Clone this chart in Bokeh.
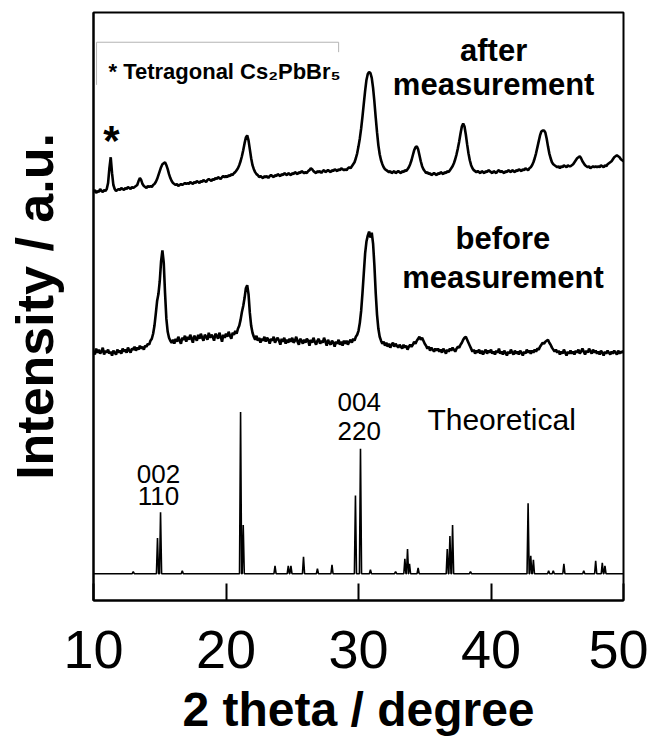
import numpy as np
from bokeh.plotting import figure
from bokeh.models import Range1d, FixedTicker, Label
from bokeh.embed import file_html
from bokeh.resources import INLINE

# ---------------- data (2theta in degrees, intensity in a.u. with vertical offsets) ----------------
two_theta = np.round(np.arange(100, 501) / 10.0, 1)  # 10.0 ... 50.0, 0.1 deg steps

after_meas = [
    412, 414, 411, 413, 412, 415, 413, 412, 414, 413,
    415, 421, 436, 447, 431, 419, 415, 413, 414, 415,
    414, 416, 415, 414, 416, 415, 417, 416, 415, 417,
    416, 417, 418, 419, 423, 426, 424, 420, 418, 417,
    416, 418, 417, 418, 417, 419, 420, 422, 425, 429,
    433, 437, 440, 441, 442, 439, 435, 430, 426, 423,
    421, 420, 419, 420, 418, 419, 420, 419, 420, 421,
    420, 421, 420, 422, 421, 420, 422, 421, 423, 422,
    421, 423, 422, 424, 423, 422, 424, 425, 424, 423,
    425, 424, 426, 425, 427, 426, 425, 427, 428, 427,
    428, 427, 429, 428, 430, 429, 431, 432, 434, 436,
    439, 443, 448, 454, 461, 467, 469, 464, 455, 446,
    439, 435, 432, 430, 429, 427, 428, 427, 426, 428,
    427, 428, 426, 428, 429, 428, 427, 429, 428, 430,
    429, 428, 430, 429, 431, 430, 429, 431, 430, 429,
    431, 430, 432, 431, 430, 432, 431, 433, 432, 431,
    432, 431, 433, 434, 436, 435, 433, 432, 431, 433,
    432, 433, 431, 433, 434, 432, 433, 434, 433, 432,
    434, 433, 435, 434, 433, 435, 434, 436, 435, 434,
    435, 434, 436, 437, 436, 438, 440, 442, 446, 451,
    458, 466, 476, 488, 501, 514, 525, 531, 533, 532,
    527, 517, 503, 487, 472, 459, 450, 444, 440, 437,
    435, 434, 433, 432, 433, 431, 432, 433, 431, 432,
    433, 432, 431, 433, 432, 434, 433, 435, 437, 440,
    444, 449, 454, 457, 458, 455, 449, 443, 438, 435,
    433, 431, 432, 430, 431, 429, 430, 431, 430, 429,
    431, 430, 432, 431, 430, 432, 431, 433, 432, 434,
    436, 438, 441, 445, 450, 456, 463, 471, 478, 481,
    478, 470, 460, 451, 444, 439, 436, 434, 433, 432,
    433, 432, 431, 433, 432, 431, 433, 432, 434, 433,
    432, 431, 433, 432, 431, 433, 434, 432, 433, 432,
    431, 433, 432, 434, 433, 432, 434, 433, 432, 434,
    433, 435, 434, 433, 435, 434, 436, 435, 434, 436,
    437, 439, 442, 446, 451, 457, 463, 469, 473, 474,
    474, 472, 466, 458, 451, 446, 442, 440, 439, 438,
    437, 438, 436, 438, 437, 439, 438, 437, 439, 438,
    438, 439, 440, 442, 444, 446, 447, 448, 446, 443,
    441, 439, 438, 437, 438, 436, 437, 438, 437, 438,
    437, 438, 437, 439, 438, 437, 439, 438, 440, 441,
    442, 443, 445, 447, 448, 449, 448, 447, 445, 444,
    443,
]

before_meas = [
    252, 248, 254, 250, 253, 249, 251, 255, 248, 252,
    250, 253, 249, 251, 247, 252, 250, 248, 253, 250,
    252, 249, 254, 251, 253, 250, 255, 252, 250, 254,
    253, 256, 252, 255, 253, 257, 254, 256, 253, 257,
    256, 259, 258, 262, 264, 269, 277, 289, 302, 309,
    322, 342, 353, 341, 310, 284, 271, 265, 262, 260,
    263, 259, 264, 261, 266, 262, 259, 265, 263, 267,
    261, 266, 263, 268, 264, 260, 267, 265, 262, 268,
    264, 269, 265, 262, 268, 266, 263, 270, 265, 268,
    266, 262, 269, 267, 264, 270, 266, 261, 268, 265,
    269, 266, 271, 267, 264, 270, 268, 272, 269, 274,
    277, 283, 291, 297, 305, 315, 318, 309, 290, 277,
    270, 266, 263, 267, 262, 265, 260, 264, 262, 266,
    261, 265, 263, 259, 264, 262, 266, 260, 263, 265,
    262, 258, 264, 261, 265, 259, 263, 260, 264, 261,
    265, 260, 262, 266, 261, 258, 264, 262, 259, 263,
    260, 264, 262, 257, 263, 260, 265, 261, 258, 262,
    264, 259, 262, 260, 265, 261, 257, 263, 260, 258,
    262, 260, 256, 261, 259, 263, 258, 261, 257, 262,
    259, 262, 258, 261, 263, 260, 264, 262, 266, 268,
    272, 280, 292, 310, 330, 350, 362, 368, 372, 366,
    371, 360, 338, 310, 288, 274, 266, 262, 259, 261,
    257, 260, 256, 259, 255, 258, 260, 256, 259, 257,
    255, 258, 256, 254, 258, 255, 257, 253, 256, 258,
    256, 258, 261, 259, 262, 264, 266, 263, 265, 262,
    259, 257, 254, 256, 252, 255, 253, 251, 254, 252,
    254, 251, 253, 250, 254, 252, 249, 253, 251, 254,
    252, 255, 253, 251, 254, 256, 255, 258, 260, 263,
    265, 266, 263, 260, 257, 254, 251, 253, 249, 252,
    250, 253, 249, 252, 248, 251, 253, 249, 252, 250,
    253, 249, 251, 248, 252, 250, 254, 249, 251, 248,
    252, 250, 247, 251, 249, 253, 250, 248, 252, 249,
    251, 248, 252, 250, 247, 251, 249, 253, 250, 252,
    249, 252, 250, 253, 251, 254, 253, 256, 258, 260,
    259, 261, 262, 263, 260, 258, 255, 253, 251, 253,
    250, 252, 248, 251, 249, 253, 250, 247, 251, 249,
    252, 249, 251, 248, 252, 250, 253, 249, 251, 254,
    251, 248, 252, 250, 254, 251, 249, 253, 250, 252,
    249, 251, 248, 252, 250, 247, 251, 249, 252, 250,
    248, 251, 249, 252, 250, 248, 252, 249, 251, 250,
    252,
]

theo_baseline = 27
theo_pos = [13.0, 14.83, 15.06, 16.7, 21.1, 21.3, 23.7, 24.7, 24.9, 25.85,
            26.9, 28.0, 29.77, 30.15, 30.9, 32.8, 33.5, 33.7, 33.85, 34.5,
            36.7, 36.9, 37.1, 38.45, 42.8, 43.0, 43.2, 44.35, 44.7, 45.5,
            47.0, 47.9, 48.4, 48.6]
theo_height = [2, 36, 62, 3, 163, 49, 8, 8, 8, 17,
               5, 9, 79, 126, 4, 2, 15, 25, 10, 6,
               25, 38, 49, 2, 71, 18, 14, 3, 3, 10,
               3, 13, 11, 8]

x_ticks = [10, 20, 30, 40, 50]

# ---------------- build theoretical stick-profile path from the peak list ----------------
half_w = 0.08
theo_x = [10.0]
theo_y = [theo_baseline]
for pos, h in zip(theo_pos, theo_height):
    theo_x += [pos - half_w, pos, pos + half_w]
    theo_y += [theo_baseline, theo_baseline + h, theo_baseline]
theo_x.append(50.0)
theo_y.append(theo_baseline)

FONT = "Liberation Sans"

p = figure(width=648, height=738, output_backend="svg", toolbar_location=None,
           x_range=Range1d(10, 50), y_range=Range1d(0, 593),
           min_border_left=93, min_border_right=25, min_border_top=12, min_border_bottom=10)
p.grid.visible = False
p.outline_line_color = "black"
p.outline_line_width = 2
p.background_fill_color = "white"
p.border_fill_color = "white"

p.line(two_theta, after_meas, line_color="black", line_width=2.6)
p.line(two_theta, before_meas, line_color="black", line_width=2.6)
p.line(theo_x, theo_y, line_color="black", line_width=1.6)

# x axis
xa = p.xaxis[0]
xa.ticker = FixedTicker(ticks=x_ticks)
xa.major_tick_in = 17
xa.major_tick_out = 0
xa.minor_tick_line_color = None
xa.major_tick_line_width = 2
xa.major_tick_line_color = "black"
xa.axis_line_width = 2
xa.axis_line_color = "black"
xa.major_label_text_font = FONT
xa.major_label_text_font_size = "54px"
xa.major_label_text_color = "black"
xa.major_label_standoff = 30
xa.axis_label = "2 theta / degree"
xa.axis_label_text_font = FONT
xa.axis_label_text_font_style = "bold"
xa.axis_label_text_font_size = "48px"
xa.axis_label_text_color = "black"
xa.axis_label_standoff = 12

# y axis
ya = p.yaxis[0]
ya.ticker = FixedTicker(ticks=[])
ya.major_tick_line_color = None
ya.minor_tick_line_color = None
ya.major_label_text_font_size = "0px"
ya.axis_line_width = 2
ya.axis_line_color = "black"
ya.axis_label = "Intensity / a.u."
ya.axis_label_text_font = FONT
ya.axis_label_text_font_style = "bold"
ya.axis_label_text_font_size = "52px"
ya.axis_label_text_color = "black"
ya.axis_label_standoff = 30


def add_label(x, y, text, size, bold=False, align="center"):
    p.add_layout(Label(x=x, y=y, text=text, text_font=FONT, text_font_size=size,
                       text_font_style="bold" if bold else "normal",
                       text_align=align, text_baseline="middle", text_color="black"))


add_label(40.2, 555, "after", "31px", bold=True)
add_label(40.2, 520, "measurement", "31px", bold=True)
add_label(40.9, 365, "before", "31px", bold=True)
add_label(40.9, 326, "measurement", "31px", bold=True)
add_label(40.8, 183, "Theoretical", "30px")
add_label(14.9, 128, "002", "26px")
add_label(14.9, 105, "110", "26px")
add_label(30.05, 200, "004", "26px")
add_label(30.05, 171, "220", "26px")
add_label(11.36, 464, "*", "42px", bold=True)
add_label(11.13, 533, "* Tetragonal Cs\u2082PbBr\u2085", "22px", bold=True, align="left")

# faint legend-box remnant
p.line([10.23, 10.23, 28.5, 28.5], [520, 563, 563, 553], line_color="#b4b4b4", line_width=1)

open("out.html", "w").write(file_html(p, INLINE))
